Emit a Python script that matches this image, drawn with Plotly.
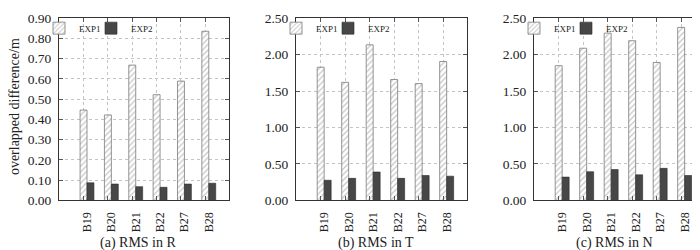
import plotly.graph_objects as go

# ---------------- data ----------------
stations = ["B19", "B20", "B21", "B22", "B27", "B28"]
r_exp1 = [0.446, 0.422, 0.668, 0.522, 0.589, 0.835]
r_exp2 = [0.087, 0.081, 0.068, 0.065, 0.081, 0.085]
t_exp1 = [1.827, 1.619, 2.134, 1.658, 1.602, 1.905]
t_exp2 = [0.277, 0.303, 0.390, 0.303, 0.342, 0.333]
n_exp1 = [1.848, 2.087, 2.294, 2.190, 1.892, 2.372]
n_exp2 = [0.320, 0.394, 0.424, 0.351, 0.440, 0.342]
series_names = ["EXP1", "EXP2"]
y_max = [0.9, 2.5, 2.5]
y_dtick = [0.1, 0.5, 0.5]
captions = ["(a) RMS in R", "(b) RMS in T", "(c) RMS in N"]
y_title = "overlapped difference/m"

# ---------------- layout constants ----------------
W, H = 700, 250
FONT = "Liberation Serif"
BARGAP = 0.43
panels = [(r_exp1, r_exp2), (t_exp1, t_exp2), (n_exp1, n_exp2)]
x_dom = [(51, 221), (288, 459), (526, 697)]
y_dom = [1 - 197.3 / H, 1 - 3.3 / H]
pos = list(range(len(stations)))
half_bar = (1 - BARGAP) / 4
grid_pos = [p - half_bar for p in pos]
legend_offsets = [-20, 32]   # legend box left edge relative to frame left

exp1_marker = dict(color="white", line=dict(color="#7a7a7a", width=0.8),
                   pattern=dict(shape="/", fgcolor="#8c8c8c", bgcolor="white",
                                size=4, solidity=0.3))
exp2_marker = dict(color="#474747", line=dict(color="#2a2a2a", width=0.6))
markers = [exp1_marker, exp2_marker]

fig = go.Figure()
leg_idx = 0
for k, vals in enumerate(panels):
    ax = "" if k == 0 else str(k + 1)
    for s, yvals in enumerate(vals):
        leg_idx += 1
        leg = "legend" if leg_idx == 1 else f"legend{leg_idx}"
        fig.add_trace(go.Bar(
            x=pos, y=yvals, name=series_names[s], xaxis="x" + ax,
            yaxis="y" + ax, legend=leg, marker=markers[s],
        ))
        fig.layout[leg] = dict(
            orientation="h", x=(x_dom[k][0] + legend_offsets[s]) / W,
            xanchor="left", y=1 - 14 / H, yanchor="middle",
            bgcolor="rgba(0,0,0,0)", borderwidth=0,
            font=dict(family=FONT, size=9, color="#222"), itemwidth=30,
        )
    xa = dict(
        domain=[x_dom[k][0] / W, x_dom[k][1] / W], anchor="y" + ax,
        range=[-1.15, 5.83], tickmode="array", tickvals=pos, ticktext=stations,
        tickangle=-90, ticks="", showgrid=False, zeroline=False,
        showline=True, linecolor="#333", linewidth=1, mirror="ticks",
        tickfont=dict(family=FONT, size=12, color="#222"),
        ticklabelstandoff=6,
        minor=dict(tickmode="array", tickvals=grid_pos, ticks="inside",
                   ticklen=4, tickcolor="#555", showgrid=True,
                   gridcolor="#c4c4c4", griddash="dot", gridwidth=1),
    )
    ya = dict(
        domain=y_dom, anchor="x" + ax, range=[0, y_max[k]], dtick=y_dtick[k],
        tick0=0, tickformat=".2f", ticks="inside", ticklen=4, tickcolor="#555",
        showgrid=True, gridcolor="#c4c4c4", griddash="dot", gridwidth=1,
        zeroline=False, showline=True, linecolor="#333", linewidth=1,
        mirror="ticks", ticklabelstandoff=4, ticklabeloverflow="allow",
        tickfont=dict(family=FONT, size=13.5, color="#222"),
    )
    fig.layout["xaxis" + ax] = xa
    fig.layout["yaxis" + ax] = ya
    fig.add_annotation(
        text=captions[k], xref=f"x{ax} domain", yref="paper",
        x=0.47, y=1 - 242.5 / H, xanchor="center", yanchor="middle",
        showarrow=False, font=dict(family=FONT, size=14, color="#222"),
    )

fig.add_annotation(
    text=y_title, xref="paper", yref="paper", x=-3.5 / W, y=1 - 98 / H,
    xanchor="left", yanchor="middle",
    textangle=-90, showarrow=False,
    font=dict(family=FONT, size=14, color="#222"),
)

fig.update_layout(
    width=W, height=H, autosize=False,
    margin=dict(l=0, r=0, t=0, b=0),
    paper_bgcolor="white", plot_bgcolor="white",
    barmode="group", bargap=BARGAP, bargroupgap=0,
    showlegend=True,
)
fig.write_html("out.html")
